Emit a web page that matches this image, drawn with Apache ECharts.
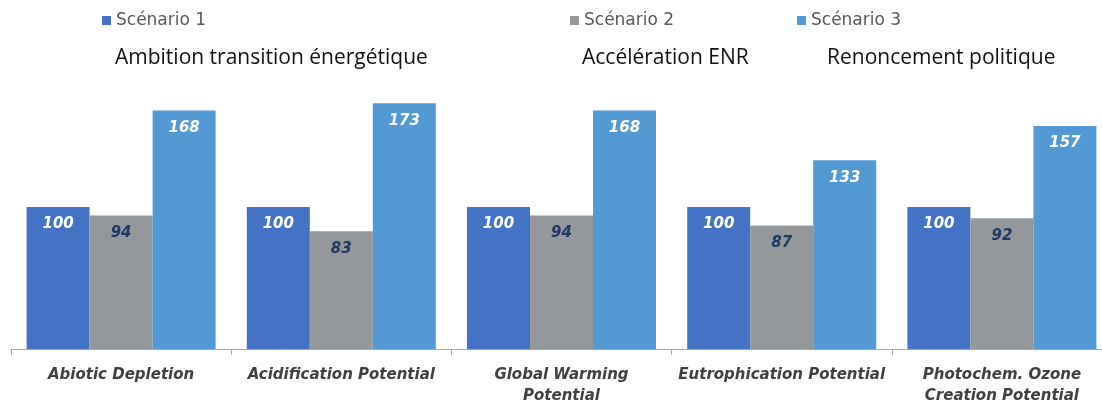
<!DOCTYPE html>
<html>
<head>
<meta charset="utf-8">
<script src="https://cdn.jsdelivr.net/npm/echarts@6/dist/echarts.min.js"></script>
<style>html,body{margin:0;padding:0;background:#fff}#c{width:1102px;height:403px}</style>
</head>
<body>
<div id="c"></div>
<script>
const categories = ['Abiotic Depletion', 'Acidification Potential', 'Global Warming\nPotential', 'Eutrophication Potential', 'Photochem. Ozone\nCreation Potential'];
const seriesNames = ['Scénario 1', 'Scénario 2', 'Scénario 3'];
const scenario1 = [100, 100, 100, 100, 100];
const scenario2 = [94, 83, 94, 87, 92];
const scenario3 = [168, 173, 168, 133, 157];
const subtitles = ['Ambition transition énergétique', 'Accélération ENR', 'Renoncement politique'];

const colors = ['#4472C4', '#95989A', '#5399D4'];
const labelColors = ['#ffffff', '#1F3864', '#ffffff'];
const legendLeft = [102, 570, 797];
const subtitleLeft = [115, 582, 827];

const chart = echarts.init(document.getElementById('c'));
const valueFont = { fontFamily: 'DejaVu Sans', fontStyle: 'italic', fontWeight: 'bold', fontSize: 15 };

const data = [scenario1, scenario2, scenario3];
chart.setOption({
  animation: false,
  title: subtitles.map((t, i) => ({
    text: t, left: subtitleLeft[i], top: 48, padding: 0,
    textStyle: { fontFamily: 'Open Sans', fontWeight: 'normal', fontSize: 21, color: '#111111' }
  })),
  legend: seriesNames.map((n, i) => ({
    data: [n], left: legendLeft[i], top: 12, padding: 0,
    icon: 'rect', itemWidth: 9, itemHeight: 9, selectedMode: false,
    textStyle: { fontFamily: 'DejaVu Sans', fontSize: 17, color: '#595959' }
  })),
  grid: { left: 11, width: 1101, top: 65, height: 284, containLabel: false, outerBoundsMode: 'none' },
  xAxis: {
    type: 'category', data: categories,
    axisLine: { lineStyle: { color: '#A6A6A6', width: 1 } },
    axisTick: { show: true, length: 6, lineStyle: { color: '#A6A6A6' } },
    axisLabel: { interval: 0, margin: 16, fontFamily: 'DejaVu Sans', fontStyle: 'italic', fontWeight: 'bold', fontSize: 15, lineHeight: 21, color: '#404040' }
  },
  yAxis: { type: 'value', min: 0, max: 200, show: false, splitLine: { show: false } },
  series: data.map((d, i) => ({
    name: seriesNames[i], type: 'bar', data: d,
    barWidth: 63, barGap: '0%',
    itemStyle: { color: colors[i] },
    label: Object.assign({ show: true, position: 'insideTop', distance: 10, color: labelColors[i] }, valueFont)
  }))
});
</script>
</body>
</html>
